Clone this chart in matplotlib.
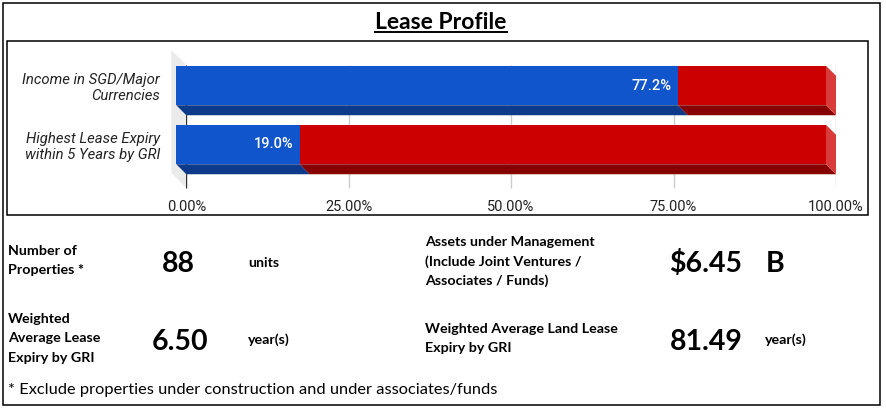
import matplotlib
matplotlib.use("Agg")
import matplotlib.pyplot as plt
from matplotlib.patches import Polygon, Rectangle
from matplotlib.ticker import FuncFormatter

# chart data
categories = ["Income in SGD/Major\nCurrencies", "Highest Lease Expiry\nwithin 5 Years by GRI"]
blue_share = [77.2, 19.0]
red_share = [100 - v for v in blue_share]
x_ticks = [0, 25, 50, 75, 100]

# key figures under the chart
metric_labels = ["Number of\nProperties *",
                 "Weighted\nAverage Lease\nExpiry by GRI",
                 "Assets under Management\n(Include Joint Ventures /\nAssociates / Funds)",
                 "Weighted Average Land Lease\nExpiry by GRI"]
metric_values = ["88", "6.50", "$6.45", "81.49"]
metric_units = ["units", "year(s)", "B", "year(s)"]
footnote = "* Exclude properties under construction and under associates/funds"

W, H = 887, 408
fig = plt.figure(figsize=(W / 100, H / 100), dpi=100)

# background axes in pixel coords for frames and text
bg = fig.add_axes([0, 0, 1, 1])
bg.set_xlim(0, W)
bg.set_ylim(H, 0)
bg.axis("off")

bg.add_patch(Rectangle((3, 3), 877, 402, fill=False, lw=1.1, ec="black"))
bg.add_patch(Rectangle((7, 41), 861, 174, fill=False, lw=1.1, ec="black"))

bg.text(441, 29, "Lease Profile", ha="center", va="baseline",
        fontsize=16.5, fontweight="bold", family="Lato", color="black")
bg.plot([374, 508], [31.5, 31.5], color="black", lw=1.4, solid_capstyle="butt")

# metrics block: (label x, first baseline, value center x, value baseline, unit x, unit baseline)
layout = [(8, 255, 178, 272, 248, 267),
          (8, 323, 180, 350, 248, 344),
          (425, 246, 706, 272, 766, 272),
          (425, 333, 706, 350, 765, 344)]
for lab, val, unit, (lx, ly, vx, vy, ux, uy) in zip(metric_labels, metric_values, metric_units, layout):
    for i, line in enumerate(lab.split("\n")):
        bg.text(lx, ly + i * 19.5, line, ha="left", va="baseline", fontsize=10.3,
                fontweight="bold", family="Lato", color="black")
    bg.text(vx, vy, val, ha="center", va="baseline", fontsize=20.5,
            fontweight="bold", family="Lato", color="black")
    big = unit == "B"
    bg.text(ux, uy, unit, ha="left", va="baseline", fontsize=20.5 if big else 10.3,
            fontweight="bold", family="Lato", color="black")

bg.text(8, 394, footnote, ha="left", va="baseline", fontsize=11.8,
        family="Lato", color="black")

# bar chart axes: x 0..100 -> pixels 186.3..836
px_per_pct = (836 - 186.3) / 100
row_px = 59.0
ax = fig.add_axes([186.3 / W, (H - 190) / H, (836 - 186.3) / W, 140 / H])
ax.set_xlim(0, 100)
ax.set_ylim((190 - 95.5) / row_px, (50 - 95.5) / row_px)
ax.patch.set_visible(False)
for s in ax.spines.values():
    s.set_visible(False)

dx = 10 / px_per_pct
dy = 10 / row_px
h = 39.5 / row_px

# left wall
wx = 15 / px_per_pct
ax.add_patch(Polygon([(-wx, (50 - 95.5) / row_px), (0, (65 - 95.5) / row_px),
                      (0, (188 - 95.5) / row_px), (-wx, (173 - 95.5) / row_px)],
                     closed=True, fc="#ebebeb", ec="none", zorder=0, clip_on=False))

g_top, g_bot = (65 - 95.5) / row_px, (188 - 95.5) / row_px
for t in x_ticks:
    ax.vlines(t, g_top, g_bot, color="#333333" if t == 0 else "#cccccc", lw=1, zorder=1)

front = {"blue": "#1155cc", "red": "#cc0000"}
bottom = {"blue": "#0e3a8b", "red": "#870000"}
side = {"blue": "#3d77d6", "red": "#d93a3a"}

for i in range(len(categories)):
    segs = [(0, blue_share[i], "blue"), (blue_share[i], 100, "red")]
    yt, yb = i - h / 2, i + h / 2
    for x0, x1, c in segs:
        ax.add_patch(Polygon([(x0 - dx, yb - dy), (x1 - dx, yb - dy), (x1, yb), (x0, yb)],
                             closed=True, fc=bottom[c], ec="none", zorder=2, clip_on=False))
        ax.add_patch(Rectangle((x0 - dx, yt - dy), x1 - x0, h, fc=front[c], ec="none",
                               zorder=3, clip_on=False))
    x1, c = segs[-1][1], segs[-1][2]
    ax.add_patch(Polygon([(x1 - dx, yt - dy), (x1, yt), (x1, yb), (x1 - dx, yb - dy)],
                         closed=True, fc=side[c], ec="none", zorder=2, clip_on=False))
    ax.text(blue_share[i] - dx - 6 / px_per_pct, i - dy, f"{blue_share[i]:.1f}%",
            ha="right", va="center", color="white", fontsize=10.5, family="Roboto",
            fontweight="medium", zorder=4)

ax.set_xticks(x_ticks)
ax.xaxis.set_major_formatter(FuncFormatter(lambda v, p: f"{v:.2f}%"))
ax.set_yticks([i - dy for i in range(len(categories))])
ax.set_yticklabels(categories, fontstyle="italic", family="Roboto", fontsize=10.7, color="#222222")
for lab in ax.get_xticklabels():
    lab.set_family("Roboto")
ax.tick_params(axis="x", length=0, pad=7, labelsize=10.5, labelcolor="#222222")
ax.tick_params(axis="y", length=0, pad=19)

fig.savefig("out.png", dpi=100)
